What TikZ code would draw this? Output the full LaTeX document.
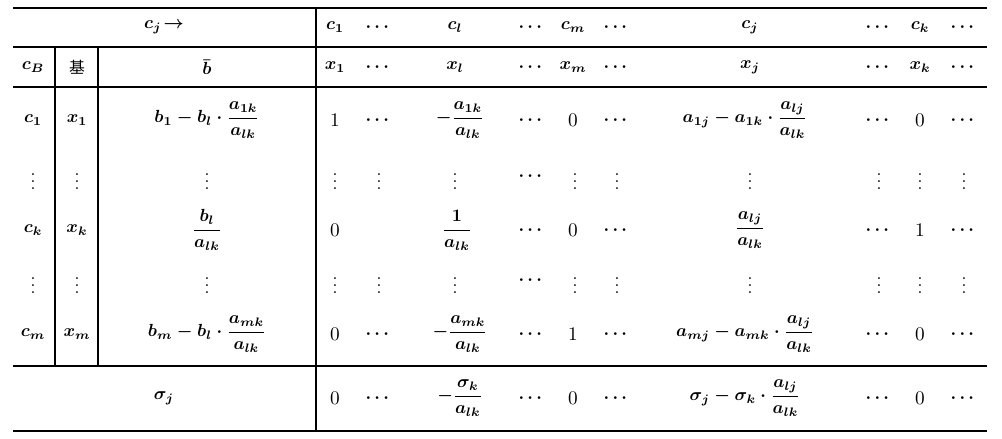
\documentclass[tikz,border=0pt]{standalone}
\usepackage{amsmath}
\usepackage{fontspec}
\newfontfamily\cjk{Noto Sans CJK SC}
\begin{document}
\begin{tikzpicture}[x=0.2mm,y=-0.2mm,
    every node/.style={font=\boldmath,inner sep=1pt},
    num/.style={font=\unboldmath\fontsize{11}{13}\selectfont},
    rule/.style={line width=0.9pt}]
        \useasboundingbox (0,0) rectangle (1002,438);
        %% rules
        \draw[rule] (13,8) -- (987,8);
        \draw[rule] (13,47) -- (987,47);
        \draw[rule] (13,87) -- (987,87);
        \draw[rule] (13,366) -- (987,366);
        \draw[rule] (13,431) -- (987,431);
        \draw[rule] (55,47) -- (55,366);
        \draw[rule] (98,47) -- (98,366);
        \draw[rule] (316,8) -- (316,431);
        %% header c_j
        \node (cjhead) at (164,27) {$c_j\!\rightarrow$};
        \node (hc1) at (335,27) {$c_1$};
        \node (hd1) at (379,27) {$\cdots$};
        \node (hcl) at (455,27) {$c_l$};
        \node (hd2) at (532,27) {$\cdots$};
        \node (hcm) at (573,27) {$c_m$};
        \node (hd3) at (617,27) {$\cdots$};
        \node (hcj) at (750,27) {$c_j$};
        \node (hd4) at (879,27) {$\cdots$};
        \node (hck) at (920,27) {$c_k$};
        \node (hd5) at (964,27) {$\cdots$};
        %% header x_j
        \node (cB) at (33,67) {$c_B$};
        \node (base) at (77,67) {\cjk\small 基};
        \node (bbar) at (207,67) {$\bar{b}$};
        \node (hx1) at (335,67) {$x_1$};
        \node (he1) at (379,67) {$\cdots$};
        \node (hxl) at (455,67) {$x_l$};
        \node (he2) at (532,67) {$\cdots$};
        \node (hxm) at (573,67) {$x_m$};
        \node (he3) at (617,67) {$\cdots$};
        \node (hxj) at (750,67) {$x_j$};
        \node (he4) at (879,67) {$\cdots$};
        \node (hxk) at (920,67) {$x_k$};
        \node (he5) at (964,67) {$\cdots$};
        %% row c_1
        \node (ac) at (33,120) {$c_1$};
        \node (ax) at (77,120) {$x_1$};
        \node (ab) at (207,120) {$b_1-b_l\cdot\dfrac{a_{1k}}{a_{lk}}$};
        \node[num] (a1) at (335,120) {$1$};
        \node (a2) at (379,120) {$\cdots$};
        \node (a3) at (460,120) {$-\dfrac{a_{1k}}{a_{lk}}$};
        \node (a4) at (532,120) {$\cdots$};
        \node[num] (a5) at (573,120) {$0$};
        \node (a6) at (617,120) {$\cdots$};
        \node (a7) at (745,120) {$a_{1j}-a_{1k}\cdot\dfrac{a_{lj}}{a_{lk}}$};
        \node (a8) at (879,120) {$\cdots$};
        \node[num] (a9) at (920,120) {$0$};
        \node (a10) at (964,120) {$\cdots$};
        %% dots
        \node (pc) at (33,176) {$\vdots$};
        \node (px) at (77,176) {$\vdots$};
        \node (pb) at (207,176) {$\vdots$};
        \node (p1) at (335,176) {$\vdots$};
        \node (p2) at (379,176) {$\vdots$};
        \node (p3) at (455,176) {$\vdots$};
        \node (p4) at (532,176) {$\cdots$};
        \node (p5) at (575,176) {$\vdots$};
        \node (p6) at (617,176) {$\vdots$};
        \node (p7) at (750,176) {$\vdots$};
        \node (p8) at (879,176) {$\vdots$};
        \node (p9) at (920,176) {$\vdots$};
        \node (p10) at (964,176) {$\vdots$};
        %% row c_k
        \node (kc) at (33,230) {$c_k$};
        \node (kx) at (77,230) {$x_k$};
        \node (kb) at (207,230) {$\dfrac{b_l}{a_{lk}}$};
        \node[num] (k1) at (335,230) {$0$};
        \node (k3) at (457,230) {$\dfrac{1}{a_{lk}}$};
        \node (k4) at (532,230) {$\cdots$};
        \node[num] (k5) at (573,230) {$0$};
        \node (k6) at (617,230) {$\cdots$};
        \node (k7) at (750,230) {$\dfrac{a_{lj}}{a_{lk}}$};
        \node (k8) at (879,230) {$\cdots$};
        \node[num] (k9) at (920,230) {$1$};
        \node (k10) at (964,230) {$\cdots$};
        %% dots
        \node (qc) at (33,280) {$\vdots$};
        \node (qx) at (77,280) {$\vdots$};
        \node (qb) at (207,280) {$\vdots$};
        \node (q1) at (335,280) {$\vdots$};
        \node (q2) at (379,280) {$\vdots$};
        \node (q3) at (455,280) {$\vdots$};
        \node (q4) at (532,280) {$\cdots$};
        \node (q5) at (575,280) {$\vdots$};
        \node (q6) at (617,280) {$\vdots$};
        \node (q7) at (750,280) {$\vdots$};
        \node (q8) at (879,280) {$\vdots$};
        \node (q9) at (920,280) {$\vdots$};
        \node (q10) at (964,280) {$\vdots$};
        %% row c_m
        \node (mc) at (33,334) {$c_m$};
        \node (mx) at (77,334) {$x_m$};
        \node (mb) at (207,334) {$b_m-b_l\cdot\dfrac{a_{mk}}{a_{lk}}$};
        \node[num] (m1) at (335,334) {$0$};
        \node (m2) at (379,334) {$\cdots$};
        \node (m3) at (460,334) {$-\dfrac{a_{mk}}{a_{lk}}$};
        \node (m4) at (532,334) {$\cdots$};
        \node[num] (m5) at (573,334) {$1$};
        \node (m6) at (617,334) {$\cdots$};
        \node (m7) at (745,334) {$a_{mj}-a_{mk}\cdot\dfrac{a_{lj}}{a_{lk}}$};
        \node (m8) at (879,334) {$\cdots$};
        \node[num] (m9) at (920,334) {$0$};
        \node (m10) at (964,334) {$\cdots$};
        %% row sigma
        \node (sj) at (164,398) {$\sigma_j$};
        \node[num] (s1) at (335,398) {$0$};
        \node (s2) at (379,398) {$\cdots$};
        \node (s3) at (460,398) {$-\dfrac{\sigma_k}{a_{lk}}$};
        \node (s4) at (532,398) {$\cdots$};
        \node[num] (s5) at (573,398) {$0$};
        \node (s6) at (617,398) {$\cdots$};
        \node (s7) at (745,398) {$\sigma_j-\sigma_k\cdot\dfrac{a_{lj}}{a_{lk}}$};
        \node (s8) at (879,398) {$\cdots$};
        \node[num] (s9) at (920,398) {$0$};
        \node (s10) at (964,398) {$\cdots$};
\end{tikzpicture}
\end{document}
